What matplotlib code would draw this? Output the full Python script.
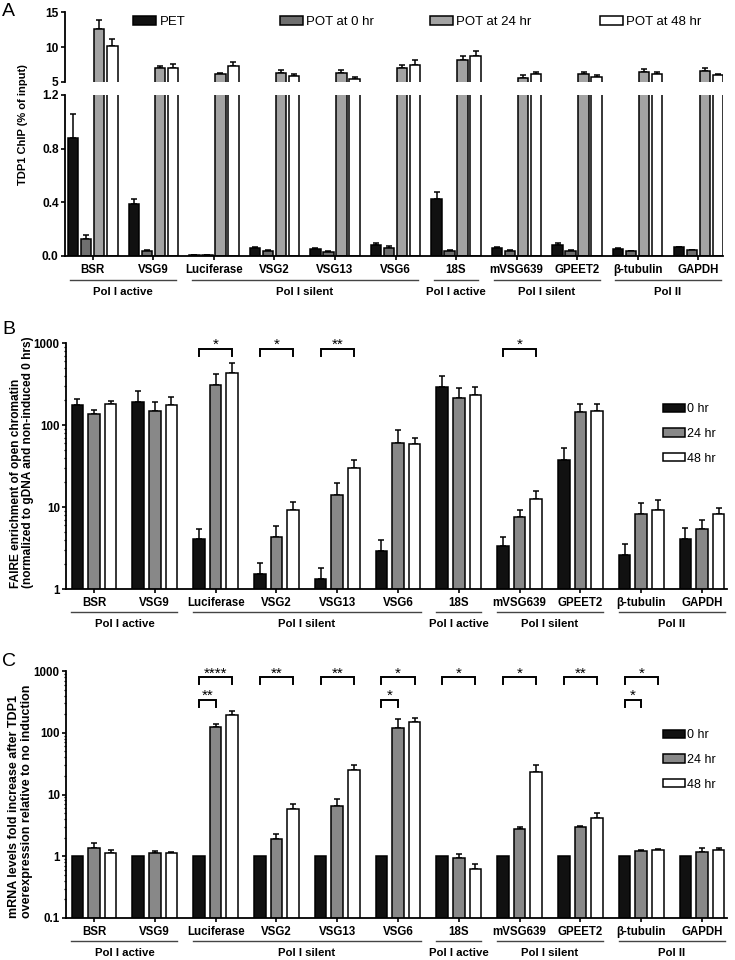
"""TDP1 ChIP, FAIRE and mRNA levels per locus (three stacked panels)."""

import matplotlib

matplotlib.use("Agg")
import matplotlib.pyplot as plt
import numpy as np
from matplotlib.lines import Line2D
from matplotlib.patches import Patch
from matplotlib.ticker import LogLocator, NullFormatter
from matplotlib.transforms import ScaledTranslation

plt.rcParams["font.family"] = ["Liberation Sans", "DejaVu Sans"]
plt.rcParams["font.weight"] = "bold"

W, H = 735, 960

genes = ["BSR", "VSG9", "Luciferase", "VSG2", "VSG13", "VSG6", "18S",
         "mVSG639", "GPEET2", "β-tubulin", "GAPDH"]
groups = [("Pol I active", 0, 1), ("Pol I silent", 2, 5), ("Pol I active", 6, 6),
          ("Pol I silent", 7, 8), ("Pol II", 9, 10)]

# panel A: TDP1 ChIP (% of input)
chip_labels = ["PET", "POT at 0 hr", "POT at 24 hr", "POT at 48 hr"]
chip_pet = [0.88, 0.39, 0.005, 0.057, 0.052, 0.082, 0.427, 0.06, 0.085, 0.052, 0.065]
chip_pet_err = [0.18, 0.035, 0.002, 0.008, 0.006, 0.018, 0.048, 0.006, 0.01, 0.006, 0.003]
chip_pot0 = [0.124, 0.04, 0.008, 0.04, 0.032, 0.057, 0.04, 0.04, 0.04, 0.035, 0.042]
chip_pot0_err = [0.035, 0.006, 0.002, 0.004, 0.003, 0.015, 0.004, 0.006, 0.003, 0.004, 0.006]
chip_pot24 = [12.6, 7.05, 6.1, 6.3, 6.3, 7.05, 8.1, 5.6, 6.1, 6.5, 6.6]
chip_pot24_err = [1.2, 0.3, 0.2, 0.4, 0.4, 0.35, 0.6, 0.35, 0.35, 0.35, 0.35]
chip_pot48 = [10.1, 7.05, 7.3, 5.8, 5.4, 7.5, 8.7, 6.1, 5.7, 6.1, 5.95]
chip_pot48_err = [1.1, 0.5, 0.6, 0.4, 0.3, 0.6, 0.8, 0.35, 0.3, 0.35, 0.25]

# panel B: FAIRE enrichment
time_labels = ["0 hr", "24 hr", "48 hr"]
faire_0 = [174, 193, 4.07, 1.51, 1.32, 2.93, 290, 3.31, 37.8, 2.57, 4.1]
faire_0_err = [34, 69, 1.3, 0.55, 0.5, 1.07, 102, 1.0, 14, 1.0, 1.4]
faire_24 = [135, 148, 307, 4.3, 14.1, 60, 211, 7.5, 143, 8.2, 5.4]
faire_24_err = [19, 45, 112, 1.6, 5.7, 28, 69, 1.8, 39, 3.0, 1.5]
faire_48 = [180, 175, 427, 9.2, 30.2, 58.7, 230, 12.5, 147, 9.1, 8.3]
faire_48_err = [14, 42, 148, 2.4, 7.2, 10, 60, 3.0, 35, 3.2, 1.3]
faire_sig = [(2, "*"), (3, "*"), (4, "**"), (7, "*")]

# panel C: mRNA fold increase
mrna_0 = [1.0, 1.0, 1.0, 1.0, 1.0, 1.0, 1.0, 1.0, 1.0, 1.0, 1.0]
mrna_24 = [1.37, 1.15, 125, 1.92, 6.45, 118, 0.94, 2.79, 2.97, 1.21, 1.19]
mrna_24_err = [0.24, 0.06, 15, 0.34, 2.15, 47, 0.14, 0.21, 0.15, 0.06, 0.18]
mrna_48 = [1.15, 1.15, 194, 5.9, 24.6, 151, 0.63, 22.8, 4.1, 1.25, 1.25]
mrna_48_err = [0.12, 0.04, 32, 1.15, 5.1, 20, 0.11, 7.7, 0.86, 0.05, 0.13]
mrna_sig_long = [(2, "****"), (3, "**"), (4, "**"), (5, "*"), (6, "*"), (7, "*"), (8, "**"), (9, "*")]
mrna_sig_short = [(2, "**"), (5, "*"), (9, "*")]

BLACK = "#111111"
fig = plt.figure(figsize=(W / 100, H / 100), dpi=100)


def px_axes(left, top, right, bottom):
    return fig.add_axes([left / W, 1 - bottom / H, (right - left) / W, (bottom - top) / H])


def shift(ax, dy_px):
    return ax.get_xaxis_transform() + ScaledTranslation(0, -dy_px / 100, fig.dpi_scale_trans)


def draw_bars(ax, series, errors, colors, pitch, width):
    x = np.arange(len(genes))
    n = len(series)
    for i, (vals, errs, col) in enumerate(zip(series, errors, colors)):
        xs = x + (i - (n - 1) / 2) * pitch
        ax.bar(xs, vals, width=width, color=col, edgecolor="black", linewidth=1.1, zorder=2)
        if errs is not None:
            ax.errorbar(xs, vals, yerr=[np.zeros(len(vals)), errs], fmt="none", ecolor="black",
                        elinewidth=1.1, capsize=2.2, capthick=1.1, zorder=1)


def style_axis(ax, xlim, ylabel_size=8.6):
    for side in ("top", "right"):
        ax.spines[side].set_visible(False)
    for side in ("left", "bottom"):
        ax.spines[side].set_linewidth(1.3)
    ax.set_xlim(*xlim)
    ax.set_xticks(range(len(genes)))
    ax.set_xticklabels(genes)
    ax.tick_params(axis="y", which="major", length=3, width=1.2, labelsize=ylabel_size, pad=1.5)
    ax.tick_params(axis="y", which="minor", length=1.6, width=0.9)
    ax.tick_params(axis="x", length=3, width=1.2, labelsize=8.3, pad=3)
    ax.tick_params(axis="x", which="minor", length=0)


def add_groups(ax, line_dy, label_dy):
    for name, i0, i1 in groups:
        ax.add_line(Line2D([i0 - 0.37, i1 + 0.37], [0, 0], transform=shift(ax, line_dy),
                           color="#444444", lw=1.0, clip_on=False))
        ax.text((i0 + i1) / 2, 0, name, transform=shift(ax, label_dy), ha="center",
                va="center", fontsize=8.2)


def add_bracket(ax, i, j0, j1, y, ratio, label, pitch):
    x0, x1 = i + j0 * pitch, i + j1 * pitch
    ax.plot([x0, x0, x1, x1], [y / ratio, y, y, y / ratio], color="black", lw=1.4,
            clip_on=False, solid_joinstyle="miter")
    ax.text((x0 + x1) / 2, y, label, ha="center", va="baseline", fontsize=11,
            fontweight="normal", clip_on=False)


def time_legend(ax, y_px):
    handles = [Patch(facecolor=c, edgecolor="black", linewidth=1.1)
               for c in (BLACK, "#888888", "white")]
    ax.legend(handles, time_labels, loc="center left", bbox_to_anchor=(663 / W, 1 - y_px / H),
              bbox_transform=fig.transFigure, frameon=False, borderpad=0, borderaxespad=0,
              handlelength=1.75, handleheight=0.65, handletextpad=0.2, labelspacing=1.0,
              prop={"size": 9, "weight": "normal"})


def two_line_ylabel(lines, xs_px, bottom_px, size):
    # each line starts at the same bottom point, like a left-aligned rotated block
    for text, x_px in zip(lines, xs_px):
        fig.text(x_px / W, 1 - bottom_px / H, text, rotation=90, ha="center", va="bottom",
                 fontsize=size)


xlim = (-0.46, 10.41)
pitch4, width4 = 0.215, 0.17
pitch3, width3 = 0.273, 0.19

# ---- panel A (broken axis)
ax_top = px_axes(65, 12, 723, 82)
ax_bot = px_axes(65, 95, 723, 256)
chip_colors = [BLACK, "#6f6f6f", "#a3a3a3", "white"]
for ax in (ax_top, ax_bot):
    draw_bars(ax, [chip_pet, chip_pot0, chip_pot24, chip_pot48],
              [chip_pet_err, chip_pot0_err, chip_pot24_err, chip_pot48_err],
              chip_colors, pitch4, width4)
    style_axis(ax, xlim)
ax_top.set_ylim(5, 15)
ax_top.set_yticks([5, 10, 15])
ax_top.spines["bottom"].set_visible(False)
ax_top.tick_params(axis="x", bottom=False, labelbottom=False)
ax_bot.set_ylim(0, 1.2)
ax_bot.set_yticks([0.0, 0.4, 0.8, 1.2])
ax_bot.set_yticklabels(["0.0", "0.4", "0.8", "1.2"])
add_groups(ax_bot, 24, 36)
fig.text(23 / W, 1 - 125 / H, "TDP1 ChIP (% of input)", rotation=90, ha="center",
         va="center", fontsize=8)
for x_px, lab, col in zip([133, 280, 430, 600], chip_labels, chip_colors):
    fig.legend([Patch(facecolor=col, edgecolor="black", linewidth=1.1)], [lab],
               loc="center left", bbox_to_anchor=(x_px / W, 1 - 22 / H), frameon=False,
               borderpad=0, borderaxespad=0, handlelength=1.75, handleheight=0.6,
               handletextpad=0.25, prop={"size": 9.5, "weight": "normal"})

# ---- panel B
ax_b = px_axes(66, 343, 727, 589)
ax_b.set_yscale("log")
draw_bars(ax_b, [faire_0, faire_24, faire_48], [faire_0_err, faire_24_err, faire_48_err],
          [BLACK, "#888888", "white"], pitch3, width3)
style_axis(ax_b, xlim, 8.3)
ax_b.set_ylim(1, 1000)
ax_b.set_yticks([1, 10, 100, 1000])
ax_b.set_yticklabels(["1", "10", "100", "1000"])
ax_b.yaxis.set_minor_locator(LogLocator(subs=np.arange(2, 10)))
ax_b.yaxis.set_minor_formatter(NullFormatter())
for i, lab in faire_sig:
    add_bracket(ax_b, i, -1, 1, 850, 1.24, lab, pitch3)
add_groups(ax_b, 23, 35)
time_legend(ax_b, 434)
two_line_ylabel(["FAIRE enrichment of open chromatin",
                 "(normalized to gDNA and non-induced 0 hrs)"], [16, 28], 588, 8.6)

# ---- panel C
ax_c = px_axes(66, 671, 727, 918)
ax_c.set_yscale("log")
draw_bars(ax_c, [mrna_0, mrna_24, mrna_48], [None, mrna_24_err, mrna_48_err],
          [BLACK, "#888888", "white"], pitch3, width3)
style_axis(ax_c, xlim, 8.3)
ax_c.set_ylim(0.1, 1000)
ax_c.set_yticks([0.1, 1, 10, 100, 1000])
ax_c.set_yticklabels(["0.1", "1", "10", "100", "1000"])
ax_c.yaxis.set_minor_locator(LogLocator(subs=np.arange(2, 10)))
ax_c.yaxis.set_minor_formatter(NullFormatter())
for i, lab in mrna_sig_long:
    add_bracket(ax_c, i, -1, 1, 790, 1.285, lab, pitch3)
for i, lab in mrna_sig_short:
    add_bracket(ax_c, i, -1, 0, 341, 1.285, lab, pitch3)
add_groups(ax_c, 23, 35)
time_legend(ax_c, 760)
two_line_ylabel(["mRNA levels fold increase after TDP1",
                 "overexpression relative to no induction"], [14, 27], 918, 9.0)

for letter, y_px in (("A", 12), ("B", 330), ("C", 661)):
    fig.text(2 / W, 1 - y_px / H, letter, ha="left", va="center", fontsize=14,
             fontweight="normal")

fig.savefig("out.png", dpi=100)
